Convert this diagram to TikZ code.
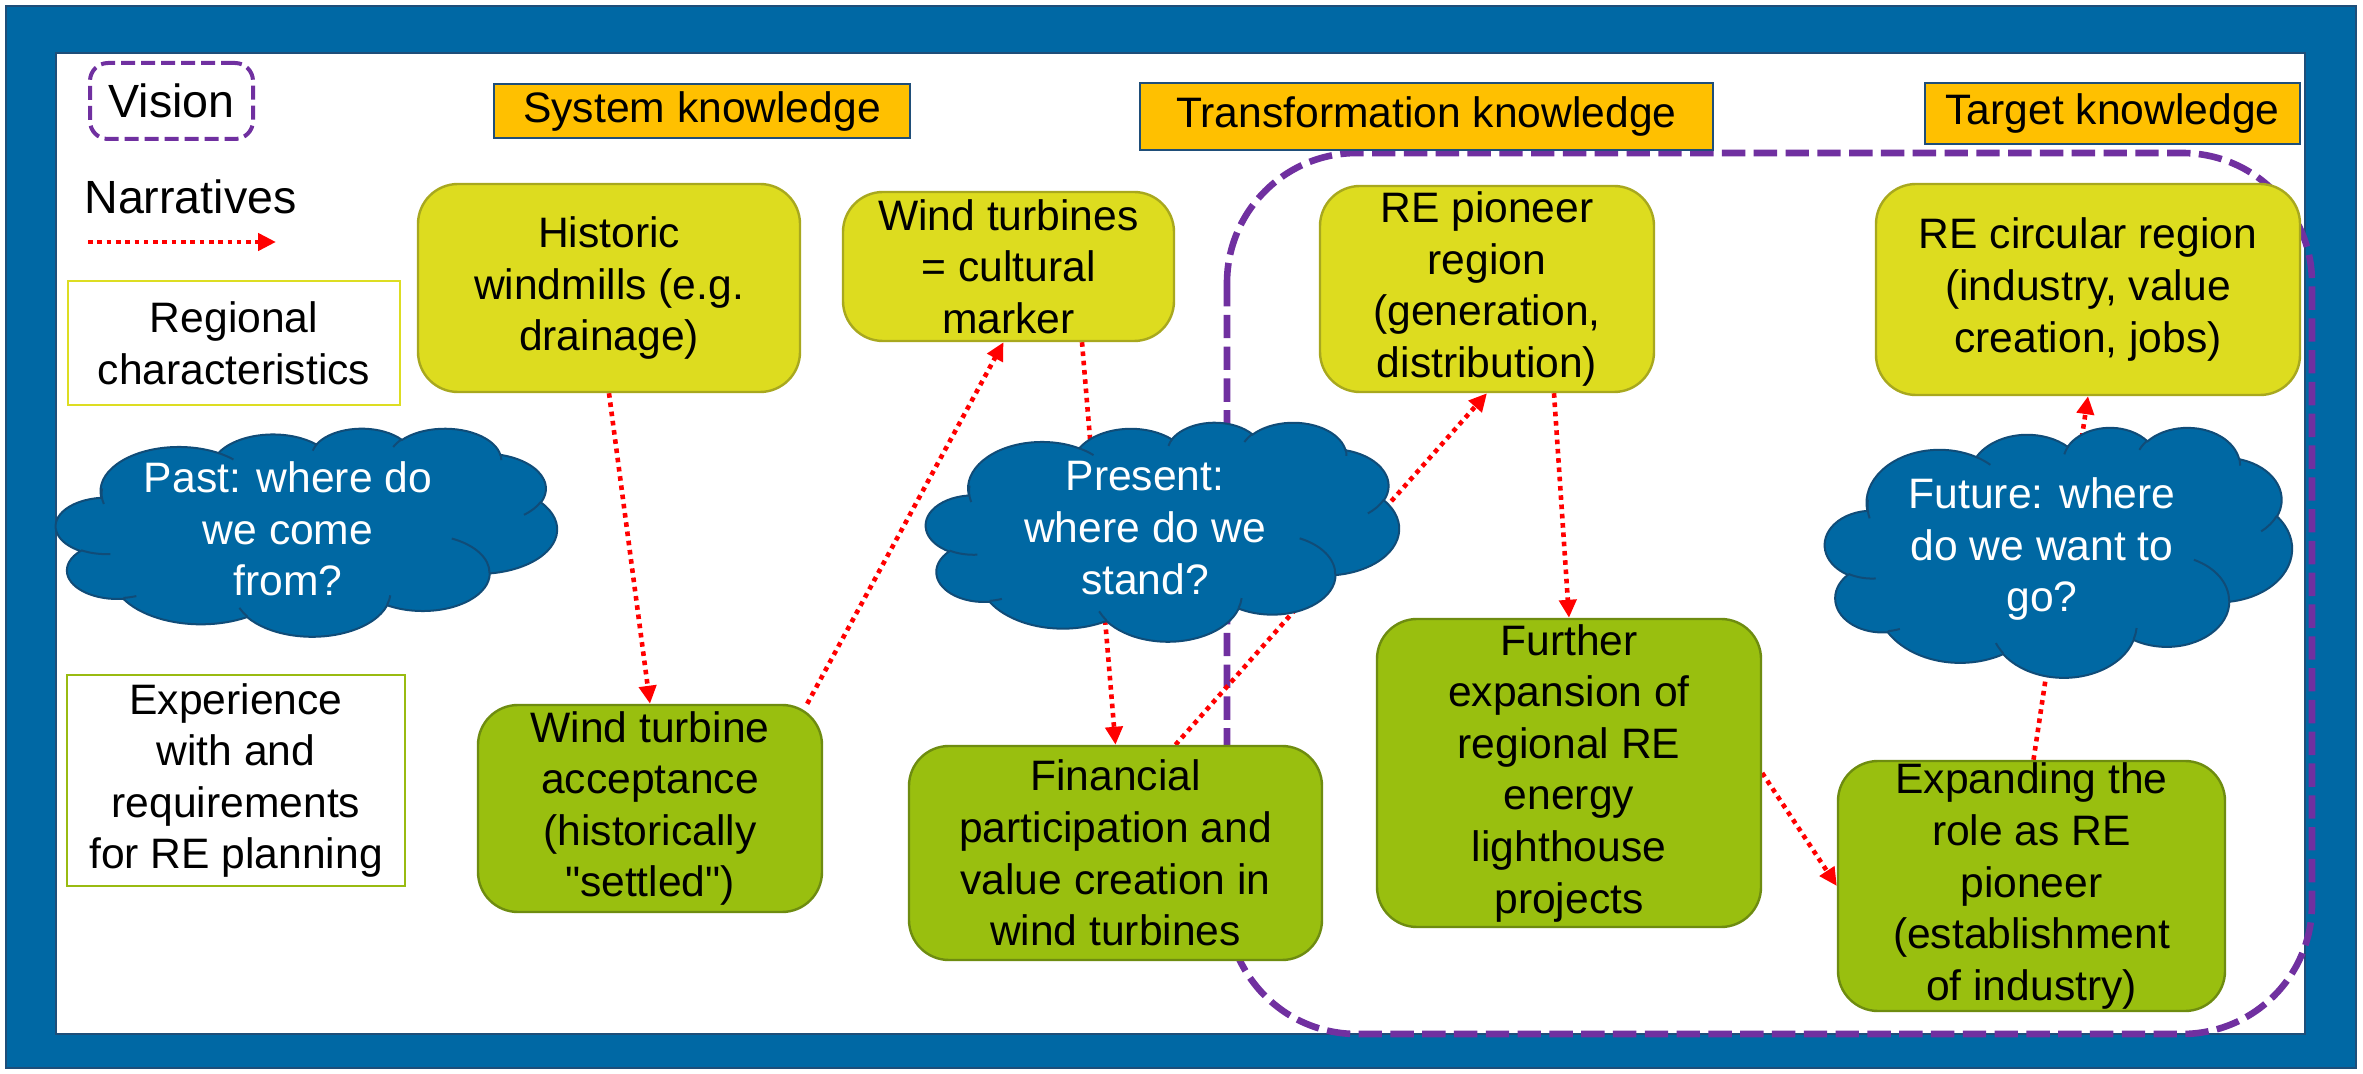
\documentclass[tikz,border=0pt]{standalone}
\usepackage{fontspec}
\setmainfont{Liberation Sans}
\newfontfamily\arialfont{Liberation Sans}
\usetikzlibrary{arrows.meta,calc}
\definecolor{frameblue}{RGB}{0,104,164}
\definecolor{frameedge}{RGB}{30,78,121}
\definecolor{cloudblue}{RGB}{0,104,163}
\definecolor{cloudedge}{RGB}{16,76,120}
\definecolor{headorange}{RGB}{255,192,0}
\definecolor{headedge}{RGB}{31,78,121}
\definecolor{ygfill}{RGB}{221,220,31}
\definecolor{ygedge}{RGB}{168,168,30}
\definecolor{grfill}{RGB}{153,191,15}
\definecolor{gredge}{RGB}{110,140,16}
\definecolor{visionpurple}{RGB}{112,48,160}
\definecolor{regyellow}{RGB}{221,221,34}
\definecolor{expgreen}{RGB}{153,187,17}
\pgfdeclarelayer{bg}
\pgfsetlayers{bg,main}
\tikzset{
  txt/.style={font=\arialfont\fontsize{21.3}{25.8}\selectfont, align=center},
  bigtxt/.style={font=\arialfont\fontsize{23.3}{28}\selectfont, align=center},
  ybox/.style={txt, draw=ygedge, fill=ygfill, line width=1.2pt, rounded corners=20pt, inner sep=0pt},
  gbox/.style={txt, draw=gredge, fill=grfill, line width=1.2pt, rounded corners=20pt, inner sep=0pt},
  head/.style={txt, draw=headedge, fill=headorange, line width=1.3pt, inner sep=0pt},
  legbox/.style={txt, fill=white, line width=1.2pt, inner sep=0pt},
  cloudfill/.style={draw=cloudedge, fill=cloudblue, line width=1pt},
  cloudline/.style={draw=cloudedge, line width=1pt},
  ctext/.style={txt, text=white},
  narr/.style={draw=red, line width=2.3pt, dash pattern=on 2.3pt off 2.35pt, -{Triangle[length=9pt,width=8.5pt]}},
  visionline/.style={draw=visionpurple, line width=3.3pt, dash pattern=on 11.7pt off 4.2pt},
}
% PowerPoint-like cloud in a 4320 x 4320 box, y pointing down
\newcommand\pptcloudshape{%
  \filldraw[cloudfill] (390,1437)
    arc[start angle=172.25, delta angle=128.10, x radius=675.3, y radius=919.0]
    arc[start angle=207.98, delta angle=106.59, x radius=533.3, y radius=726.7]
    arc[start angle=206.51, delta angle=116.16, x radius=436.5, y radius=594.5]
    arc[start angle=220.28, delta angle=129.50, x radius=485.7, y radius=659.5]
    arc[start angle=-74.77, delta angle=97.98, x radius=533.3, y radius=727.3]
    arc[start angle=-37.54, delta angle=119.40, x radius=677.5, y radius=922.0]
    arc[start angle=0.46, delta angle=121.52, x radius=578.5, y radius=786.7]
    arc[start angle=16.85, delta angle=129.38, x radius=675.2, y radius=921.5]
    arc[start angle=58.98, delta angle=91.22, x radius=772.0, y radius=1054.3]
    arc[start angle=83.31, delta angle=139.79, x radius=436.0, y radius=591.8]
    arc[start angle=120.35, delta angle=143.76, x radius=434.5, y radius=594.5]
    -- cycle;
  \draw[cloudline]
    (469.3,2617.7) arc[start angle=85.54, delta angle=34.81, x radius=434.5, y radius=594.5]
    (692.8,3489.9) arc[start angle=68.23, delta angle=15.08, x radius=436.0, y radius=591.8]
    (1647.8,3909.0) arc[start angle=146.23, delta angle=12.24, x radius=675.2, y radius=921.5]
    (2882.7,3475.1) arc[start angle=4.74, delta angle=12.11, x radius=675.2, y radius=921.5]
    (3412.9,2295.4) arc[start angle=-64.03, delta angle=64.49, x radius=578.5, y radius=786.7]
    (4179.8,1535.4) arc[start angle=23.21, delta angle=26.43, x radius=533.3, y radius=727.3]
    (3832.4,542.6) arc[start angle=-10.22, delta angle=11.04, x radius=485.7, y radius=659.5]
    (2907.8,395.2) arc[start angle=203.71, delta angle=16.57, x radius=485.7, y radius=659.5]
    (2214.1,472.0) arc[start angle=192.27, delta angle=14.24, x radius=436.5, y radius=594.5]
    (1400.0,519.2) arc[start angle=-59.65, delta angle=13.91, x radius=675.3, y radius=919.0]
    (412.7,1578.9) arc[start angle=166.07, delta angle=20.36, x radius=675.3, y radius=919.0];
}
\begin{document}
\begin{tikzpicture}[x=0.5pt,y=-0.5pt]
\useasboundingbox (0,0) rectangle (2363,1074);
% legend
\node[bigtxt, draw=visionpurple, line width=2pt, dash pattern=on 7pt off 3pt, rounded corners=9pt, minimum width=81.5pt, minimum height=38pt, inner sep=0pt] (vis) at (171.5,101) {Vision};
\node[bigtxt, anchor=west, inner sep=0pt] (narrtxt) at (84,197) {Narratives};
\coordinate (na) at (88,242);
\coordinate (nb) at (276,242);
\draw[narr] (na) -- (nb);
\node[legbox, draw=regyellow, minimum width=166pt, minimum height=62pt] (reg) at (234,343) {Regional\\characteristics};
\node[legbox, draw=expgreen, minimum width=169pt, minimum height=105.5pt] (exp) at (236,780.5) {Experience\\with and\\requirements\\for RE planning};
% headers
\node[head, minimum width=208pt, minimum height=27pt] (sys) at (702,111) {System knowledge};
\node[head, minimum width=286.5pt, minimum height=33.5pt] (trans) at (1426.5,116.5) {Transformation knowledge};
\node[head, minimum width=187.5pt, minimum height=30.5pt] (targ) at (2112.5,113.5) {Target knowledge};
% boxes
\node[ybox, minimum width=191pt, minimum height=104pt] (hist) at (609,288) {Historic\\windmills (e.g.\\drainage)};
\node[ybox, minimum width=165.5pt, minimum height=74.5pt] (cult) at (1008.5,266.5) {Wind turbines\\= cultural\\marker};
\node[ybox, minimum width=167pt, minimum height=103pt] (pion) at (1487,289) {RE pioneer\\region\\(generation,\\distribution)};
\node[ybox, minimum width=212pt, minimum height=105.5pt] (circ) at (2088,289.5) {RE circular region\\(industry, value\\creation, jobs)};
\node[gbox, minimum width=172pt, minimum height=103.5pt] (acc) at (650,808.5) {Wind turbine\\acceptance\\(historically\\"settled")};
\node[gbox, minimum width=206.5pt, minimum height=107pt] (fin) at (1115.5,853) {Financial\\participation and\\value creation in\\wind turbines};
\node[gbox, minimum width=192pt, minimum height=154pt] (fur) at (1569,773) {Further\\expansion of\\regional RE\\energy\\lighthouse\\projects};
\node[gbox, minimum width=193.5pt, minimum height=125pt] (expd) at (2031.5,886) {Expanding the\\role as RE\\pioneer\\(establishment\\of industry)};
% clouds
\begin{scope}[shift={(56,428)}, x=0.057986pt, y=-0.024074pt]
  \pptcloudshape
\end{scope}
\node[ctext] (pastt) at (288,529) {Past: where do\\we come\\from?};
\begin{scope}[shift={(926,422)}, x=0.054745pt, y=-0.025347pt]
  \pptcloudshape
\end{scope}
\node[ctext] (prest) at (1145,528) {Present:\\where do we\\stand?};
\begin{scope}[shift={(1825,427)}, x=0.054051pt, y=-0.028935pt]
  \pptcloudshape
\end{scope}
\node[ctext] (futt) at (2042,549) {Future: where\\do we want to\\go?};
\begin{pgfonlayer}{bg}
  \coordinate (o1) at (6,6);
  \coordinate (o2) at (2356,1068);
  \coordinate (w1) at (56,53);
  \coordinate (w2) at (2305,1034);
  \fill[white] (0,0) rectangle (2363,1074);
  \filldraw[fill=frameblue, draw=frameedge, line width=1pt] (o1) rectangle (o2);
  \filldraw[fill=white, draw=frameedge, line width=1pt] (w1) rectangle (w2);
  \coordinate (v1) at (1227,153);
  \coordinate (v2) at (2312,1034);
  \draw[visionline, rounded corners=65pt] (v1) rectangle (v2);
  \draw[narr] (hist.south) -- (acc.north);
  \draw[narr] ([xshift=-8pt]acc.north east) -- ([xshift=-2.5pt]cult.south);
  \draw[narr] ([xshift=36.75pt]cult.south) -- (fin.north);
  \draw[narr] ([xshift=30pt]fin.north) -- (pion.south);
  \draw[narr] ([xshift=33.5pt]pion.south) -- (fur.north);
  \draw[narr] (fur.east) -- (expd.west);
  \draw[narr] ([xshift=1pt]expd.north) -- (circ.south);
\end{pgfonlayer}
\end{tikzpicture}
\end{document}
